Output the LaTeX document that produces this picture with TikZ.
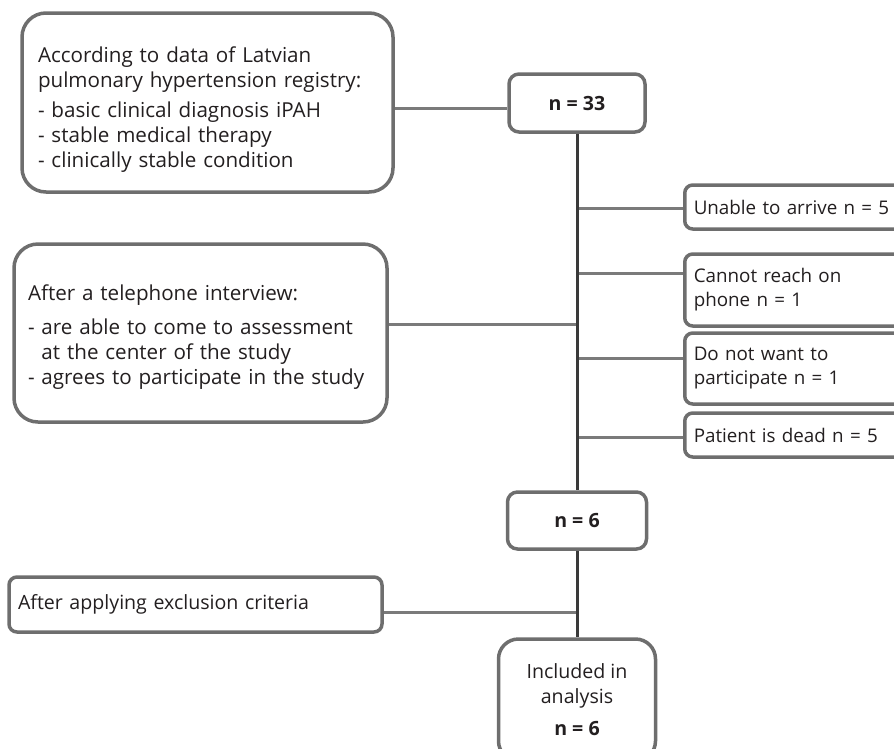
\documentclass[tikz,border=0pt]{standalone}
\usepackage{fontspec}
\setmainfont{Open Sans}
\definecolor{boxgray}{HTML}{6E6E6E}
\definecolor{linkgray}{HTML}{7A7A7A}
\definecolor{spinegray}{HTML}{3A3A3A}
\definecolor{inkblack}{HTML}{231F20}
\begin{document}
\begin{tikzpicture}[x=1pt, y=-1pt,
    every node/.style={text=inkblack, font=\fontsize{19.6}{25}\selectfont},
    framed/.style={draw=boxgray, line width=3.5pt, fill=white},
    infobox/.style={framed, rounded corners=24pt, align=left, inner ysep=0pt, font=\fontsize{20.6}{25}\selectfont},
    notebox/.style={framed, rounded corners=8pt, align=left, inner xsep=9pt, inner ysep=0pt},
    dropbox/.style={notebox, anchor=west, text width=212pt, font=\fontsize{18.8}{24}\selectfont},
    countbox/.style={framed, rounded corners=10pt, font=\fontsize{19.6}{25}\selectfont\bfseries},
    link/.style={draw=linkgray, line width=3pt},
    spine/.style={draw=spinegray, line width=3pt}]
    \useasboundingbox (0,0) rectangle (894,748);

    \node[infobox, text width=339pt, inner xsep=16pt, minimum height=179pt] (registry) at (207.5,102.5)
        {\rule{0pt}{29pt}According to data of Latvian\\ pulmonary hypertension registry:\\[5pt] - basic clinical diagnosis iPAH\\ - stable medical therapy\\ - clinically stable condition};
    \node[infobox, text width=345pt, inner xsep=14pt, minimum height=178pt] (phone) at (200.5,333)
        {\rule{0pt}{23pt}After a telephone interview:\\[9pt] - are able to come to assessment\\ \hphantom{- }at the center of the study\\ - agrees to participate in the study};
    \node[notebox, text width=355pt, minimum height=55pt] (exclusion) at (195.5,604.5)
        {After applying exclusion criteria};

    \node[countbox, minimum width=136pt, minimum height=58pt] (n33) at (577,103) {n = 33};
    \node[countbox, minimum width=139pt, minimum height=57pt] (n6) at (577,520.5) {n = 6};
    \node[framed, rounded corners=20pt, align=center, minimum width=157pt, minimum height=122pt] (included) at (577,700)
        {Included in\\ analysis\\[7pt] \textbf{n = 6}};

    \node[dropbox, minimum height=44pt] (unable) at (683,207) {Unable to arrive n = 5};
    \node[dropbox, minimum height=72pt] (noreach) at (683,290) {Cannot reach on\\ phone n = 1};
    \node[dropbox, minimum height=71pt] (nowant) at (683,368.5) {Do not want to\\ participate n = 1};
    \node[dropbox, minimum height=44pt] (dead) at (683,435) {Patient is dead n = 5};

    \coordinate (cutRegistry) at (577,108);
    \coordinate (cutUnable) at (577,208);
    \coordinate (cutNoreach) at (577,273);
    \coordinate (cutPhone) at (577,324);
    \coordinate (cutNowant) at (577,358);
    \coordinate (cutDead) at (577,437);
    \coordinate (cutExclusion) at (577,612);

    \draw[link] (registry.east |- cutRegistry) -- (n33.west |- cutRegistry);
    \draw[link] (phone.east |- cutPhone) -- (cutPhone);
    \draw[link] (cutUnable) -- (unable.west |- cutUnable);
    \draw[link] (cutNoreach) -- (noreach.west |- cutNoreach);
    \draw[link] (cutNowant) -- (nowant.west |- cutNowant);
    \draw[link] (cutDead) -- (dead.west |- cutDead);
    \draw[link] (exclusion.east |- cutExclusion) -- (cutExclusion);
    \draw[spine] (n33) -- (n6);
    \draw[spine] (n6) -- (included);
\end{tikzpicture}
\end{document}
